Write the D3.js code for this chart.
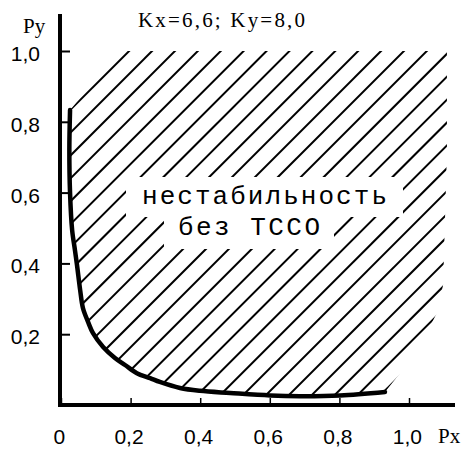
<!DOCTYPE html>
<html><head><meta charset="utf-8">
<script src="https://cdn.jsdelivr.net/npm/d3@7"></script>
<style>html,body{margin:0;padding:0;background:#fff;}svg{display:block;}</style>
</head><body>
<svg id="chart" width="465" height="451"></svg>
<script>
// ---- data ----
const xTicks = [0, 0.2, 0.4, 0.6, 0.8, 1.0];
const yTicks = [0.2, 0.4, 0.6, 0.8, 1.0];
const boundaryPx = [0.026,0.024,0.026,0.032,0.040,0.046,0.055,0.063,0.078,0.092,0.121,0.155,0.184,0.218,0.256,0.284,0.342,0.399,0.486,0.601,0.687,0.802,0.931];
const boundaryPy = [0.833,0.720,0.599,0.494,0.438,0.395,0.325,0.274,0.234,0.203,0.164,0.133,0.113,0.090,0.076,0.065,0.048,0.040,0.034,0.027,0.025,0.027,0.037];
// outer edge of the hatched (unstable) zone, bottom -> top, then top-left corner
const zoneEdgePx = [1.023,1.080,1.098,1.109,1.109,0.17];
const zoneEdgePy = [0.150,0.260,0.339,0.715,1.000,1.000];
const titleText = "Kx=6,6; Ky=8,0";
const regionLabel = ["нестабильность", "без ТССО"];
const xName = "Px", yName = "Py";

// ---- layout ----
const svg = d3.select("#chart");
const x = d3.scaleLinear().domain([0, 1]).range([61, 409]);
const y = d3.scaleLinear().domain([0, 1]).range([405, 51]);
const fmt = d => d === 0 ? "0" : d3.format(".1f")(d).replace(".", ",");

const curvePts = boundaryPx.map((v, i) => [v, boundaryPy[i]]);
const edgePts = zoneEdgePx.map((v, i) => [v, zoneEdgePy[i]]);

// clip path for hatching
const zonePoly = curvePts.concat(edgePts).map(d => [x(d[0]), y(d[1])]);
const defs = svg.append("defs");
defs.append("clipPath").attr("id", "zone")
  .append("path")
  .attr("d", d3.line().curve(d3.curveLinear)(zonePoly) + "Z");

// hatching lines at 45 degrees, phase through the top of the boundary
const c0 = x(curvePts[0][0]) + y(curvePts[0][1]);
const step = 22.9;
const hatch = svg.append("g").attr("clip-path", "url(#zone)");
const cs = d3.range(-2, 40).map(k => c0 + k * step);
hatch.selectAll("line").data(cs).join("line")
  .attr("x1", c => c - 460).attr("y1", 460)
  .attr("x2", c => c - 0).attr("y2", 0)
  .attr("stroke", "#000").attr("stroke-width", 2);

// label with white background
const labelG = svg.append("g");
const bg = labelG.append("g");
const lbl = labelG.append("g")
  .attr("font-family", "'Liberation Mono', 'DejaVu Sans Mono', monospace")
  .attr("font-size", 26).attr("fill", "#000");
lbl.append("text").attr("x", 142).attr("y", 204)
  .attr("textLength", 245).attr("lengthAdjust", "spacing").text(regionLabel[0]);
lbl.append("text").attr("x", 178).attr("y", 235)
  .attr("textLength", 142).attr("lengthAdjust", "spacing").text(regionLabel[1]);
lbl.selectAll("text").each(function(_, i) {
  const b = this.getBBox();
  const padX = i === 0 ? 16 : 14, padY = i === 0 ? 5 : 6;
  bg.append("rect")
    .attr("x", b.x - padX).attr("y", b.y - padY)
    .attr("width", b.width + 2 * padX).attr("height", b.height + 2 * padY)
    .attr("fill", "#fff");
});

// boundary curve
svg.append("path")
  .datum(curvePts)
  .attr("d", d3.line().x(d => x(d[0])).y(d => y(d[1])).curve(d3.curveCatmullRom.alpha(0.5)))
  .attr("fill", "none").attr("stroke", "#000").attr("stroke-width", 4.5)
  .attr("stroke-linecap", "round");

// axes
const yAxis = d3.axisLeft(y).tickValues(yTicks).tickSizeInner(-10).tickSizeOuter(0)
  .tickPadding(20).tickFormat(fmt);
const gy = svg.append("g").attr("transform", `translate(${x(0) - 1},0)`).call(yAxis);
gy.select(".domain").remove();
gy.selectAll(".tick line").attr("stroke", "#000").attr("stroke-width", 2);
gy.selectAll(".tick text").attr("font-family", "'Liberation Sans', Arial, sans-serif")
  .attr("font-size", 21).attr("fill", "#000").attr("dy", "0.45em");

const xAxis = d3.axisBottom(x).tickValues(xTicks).tickSizeInner(-7).tickSizeOuter(0)
  .tickPadding(24).tickFormat(fmt);
const gx = svg.append("g").attr("transform", `translate(0,${y(0)})`).call(xAxis);
gx.select(".domain").remove();
gx.selectAll(".tick line").attr("stroke", "#000").attr("stroke-width", 1.5);
gx.selectAll(".tick text").attr("font-family", "'Liberation Sans', Arial, sans-serif")
  .attr("font-size", 21).attr("fill", "#000").attr("dx", "-0.1em");

// axis lines
svg.append("line").attr("x1", x(0) - 1).attr("x2", x(0) - 1).attr("y1", 14).attr("y2", y(0) + 2)
  .attr("stroke", "#000").attr("stroke-width", 4);
svg.append("line").attr("x1", x(0) - 3).attr("x2", 455).attr("y1", y(0)).attr("y2", y(0))
  .attr("stroke", "#000").attr("stroke-width", 4);

// axis names & title
const serif = "'Liberation Serif', 'Times New Roman', serif";
svg.append("text").attr("x", 23).attr("y", 33).attr("font-family", serif)
  .attr("font-size", 21).text(yName);
svg.append("text").attr("x", 438).attr("y", 443).attr("font-family", serif)
  .attr("font-size", 21).text(xName);
svg.append("text").attr("x", 138).attr("y", 27).attr("font-family", serif)
  .attr("font-size", 21).attr("textLength", 167).attr("lengthAdjust", "spacing").text(titleText);
</script>
</body></html>
